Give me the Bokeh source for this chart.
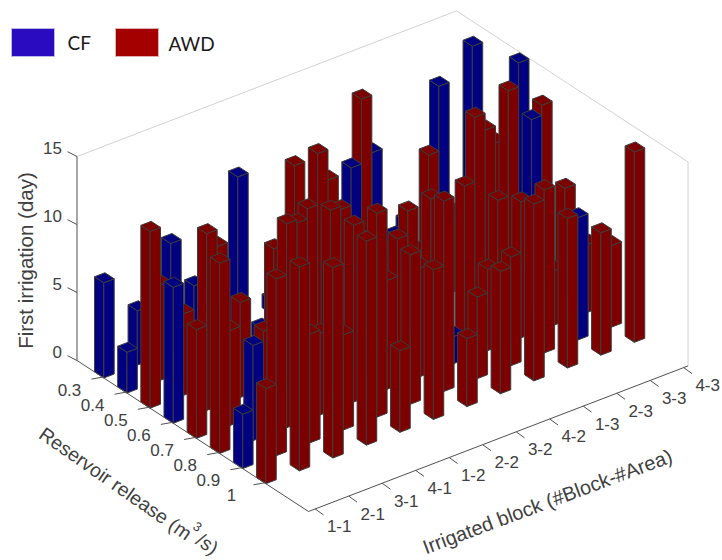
from bokeh.plotting import figure
from bokeh.models import ColumnDataSource
from bokeh.embed import file_html
from bokeh.resources import INLINE
from bokeh.core.properties import value
import math

release_labels = ["0.3", "0.4", "0.5", "0.6", "0.7", "0.8", "0.9", "1"]
block_labels = ["1-1", "2-1", "3-1", "4-1", "1-2", "2-2", "3-2", "4-2", "1-3", "2-3", "3-3", "4-3"]
z_ticks = [0, 5, 10, 15]

# days, one list per reservoir release, one value per block (0 = no visible bar)
cf_03 = [7, 4, 8, 0, 11, 1, 0, 0, 9, 3, 12, 14]
cf_04 = [3, 0, 6, 0, 1, 0, 0, 0, 4, 0, 0, 0]
cf_05 = [0, 0, 0, 0, 0, 0, 12, 0, 0, 0, 0, 15]
cf_06 = [10, 0, 0, 0, 0, 0, 0, 0, 0, 0, 0, 0]
cf_07 = [0, 0, 0, 0, 0, 0, 0, 0, 0, 0, 14, 0]
cf_08 = [0, 7, 0, 0, 0, 0, 0, 2, 0, 0, 0, 0]
cf_09 = [4, 0, 0, 0, 0, 0, 0, 0, 0, 0, 9, 0]
cf_10 = [0, 0, 0, 0, 0, 0, 0, 0, 0, 0, 0, 0]

awd_03 = [0, 0, 0, 0, 0, 0, 4, 4, 0, 0, 0, 0]
awd_04 = [0, 7, 0, 0, 0, 12, 10, 15, 0, 9, 4, 8]
awd_05 = [13, 6, 10, 0, 6, 14, 0, 5, 4, 5, 11, 0]
awd_06 = [0, 13, 7, 10, 12, 11, 8, 9, 6, 14, 15, 13]
awd_07 = [8, 7, 6, 13, 13, 8, 9, 11, 11, 9, 0, 8]
awd_08 = [14, 0, 15, 6, 13, 8, 8, 0, 6, 10, 4, 5]
awd_09 = [0, 13, 8, 7, 15, 11, 14, 6, 8, 12, 0, 6]
awd_10 = [7, 15, 14, 15, 6, 11, 5, 9, 13, 11, 9, 14]

CF = [cf_03, cf_04, cf_05, cf_06, cf_07, cf_08, cf_09, cf_10]
AWD = [awd_03, awd_04, awd_05, awd_06, awd_07, awd_08, awd_09, awd_10]

BLUE, RED = "#000080", "#7d0000"
EDGE = "#3c3c3c"
GREY = "#404040"

# parallel projection of the 3-D box onto the page
ORIGIN = (76.5, 360.0)
UX, UY = 33.5, -12.85   # one block
VX, VY = 23.15, 15.1    # one release step
ZS = 13.6               # one day
V0 = 1.158              # first release row along the axis
WU, WV = 0.31, 0.40     # bar footprint
VMAX, UMAX = 10.0, 11.33


def proj(u, v, z=0.0):
    return ORIGIN[0] + u * UX + v * VX, ORIGIN[1] + u * UY + v * VY - z * ZS


p = figure(width=722, height=560, x_range=(0, 722), y_range=(560, 0),
           toolbar_location=None, output_backend="svg", min_border=0,
           outline_line_color=None)
p.axis.visible = False
p.grid.visible = False

# walls
wall = [proj(0, 0, 15), proj(UMAX, 0, 15), proj(UMAX, VMAX, 15), proj(UMAX, VMAX, 0)]
p.line([q[0] for q in wall], [q[1] for q in wall], line_color="#d2d2d2", line_width=1)

# bars: rows back to front, and within a row the higher block index lies behind
xs, ys, cols = [], [], []
for r in range(len(release_labels)):
    for c in reversed(range(len(block_labels))):
        a, b = AWD[r][c], CF[r][c]
        h = max(a, b)
        if h <= 0:
            continue
        col = RED if a >= b else BLUE
        v = r + V0
        front = (c, v)
        left = (c, v - WV)
        right = (c + WU, v)
        back = (c + WU, v - WV)
        for s, t in ((left, front), (front, right)):
            q = [proj(*s, 0), proj(*t, 0), proj(*t, h), proj(*s, h)]
            xs.append([w[0] for w in q]); ys.append([w[1] for w in q]); cols.append(col)
        q = [proj(*front, h), proj(*right, h), proj(*back, h), proj(*left, h)]
        xs.append([w[0] for w in q]); ys.append([w[1] for w in q]); cols.append(col)
p.patches("xs", "ys", fill_color="c", line_color=EDGE, line_width=1,
          source=ColumnDataSource(dict(xs=xs, ys=ys, c=cols)))

# axes
q = [proj(0, 0, 15), proj(0, 0, 0), proj(0, VMAX, 0), proj(UMAX, VMAX, 0)]
p.line([w[0] for w in q], [w[1] for w in q], line_color="#505050", line_width=1)

for z in z_ticks:
    x0, y0 = proj(0, 0, z)
    p.segment(x0, y0, x0 - 9.5, y0 - 4.8, line_color="#505050", line_width=1)
    p.text([x0 - 15], [y0 - 9], text=[str(z)], text_font=value("Liberation Sans"),
           text_font_size="17px", text_color=GREY, text_align="right", text_baseline="middle")

for r, lab in enumerate(release_labels):
    x0, y0 = proj(0, r + 1.1)
    p.segment(x0, y0, x0 - 11, y0 + 2, line_color="#505050", line_width=1)
    p.text([x0 - 33], [y0 + 12.5], text=[lab], text_font=value("Liberation Sans"),
           text_font_size="17px", text_color=GREY, text_align="center", text_baseline="middle")

for c, lab in enumerate(block_labels):
    x0, y0 = proj(c + 0.2, VMAX)
    p.segment(x0, y0, x0 + 8.3, y0 + 6, line_color="#505050", line_width=1)
    p.text([x0 + 24], [y0 + 17.5], text=[lab], text_font=value("Liberation Sans"),
           text_font_size="17px", text_color=GREY, text_align="center", text_baseline="middle")

# axis titles
p.text([25], [260], text=["First irrigation (day)"], angle=math.pi / 2,
       text_font=value("Liberation Sans"), text_font_size="20.5px", text_color=GREY,
       text_align="center", text_baseline="middle")
p.text([41], [431], text=["Reservoir release (m"], angle=math.radians(-35),
       text_font=value("Liberation Sans"), text_font_size="19.5px", text_color=GREY,
       text_align="left", text_baseline="middle")
p.text([197], [526], text=["3"], angle=math.radians(-35),
       text_font=value("Liberation Sans"), text_font_size="13px", text_color=GREY,
       text_align="center", text_baseline="middle")
p.text([198], [537], text=["/s)"], angle=math.radians(-35),
       text_font=value("Liberation Sans"), text_font_size="19.5px", text_color=GREY,
       text_align="left", text_baseline="middle")
p.text([547], [501], text=["Irrigated block (#Block-#Area)"], angle=math.radians(20.5),
       text_font=value("Liberation Sans"), text_font_size="20px", text_color=GREY,
       text_align="center", text_baseline="middle")

# legend
p.quad(left=[11], right=[54], top=[28], bottom=[56], fill_color="#2a0bc0", line_color="#b9b9e6", line_width=1)
p.quad(left=[115], right=[158], top=[28], bottom=[56], fill_color="#a50000", line_color="#e0b0b0", line_width=1)
p.text([67], [42], text=["CF"], text_font=value("Lato"), text_font_size="19px",
       text_color="#1a1a1a", text_align="left", text_baseline="middle")
p.text([168], [43], text=["AWD"], text_font=value("Lato"), text_font_size="19px",
       text_color="#1a1a1a", text_align="left", text_baseline="middle")

open("out.html", "w").write(file_html(p, INLINE))
